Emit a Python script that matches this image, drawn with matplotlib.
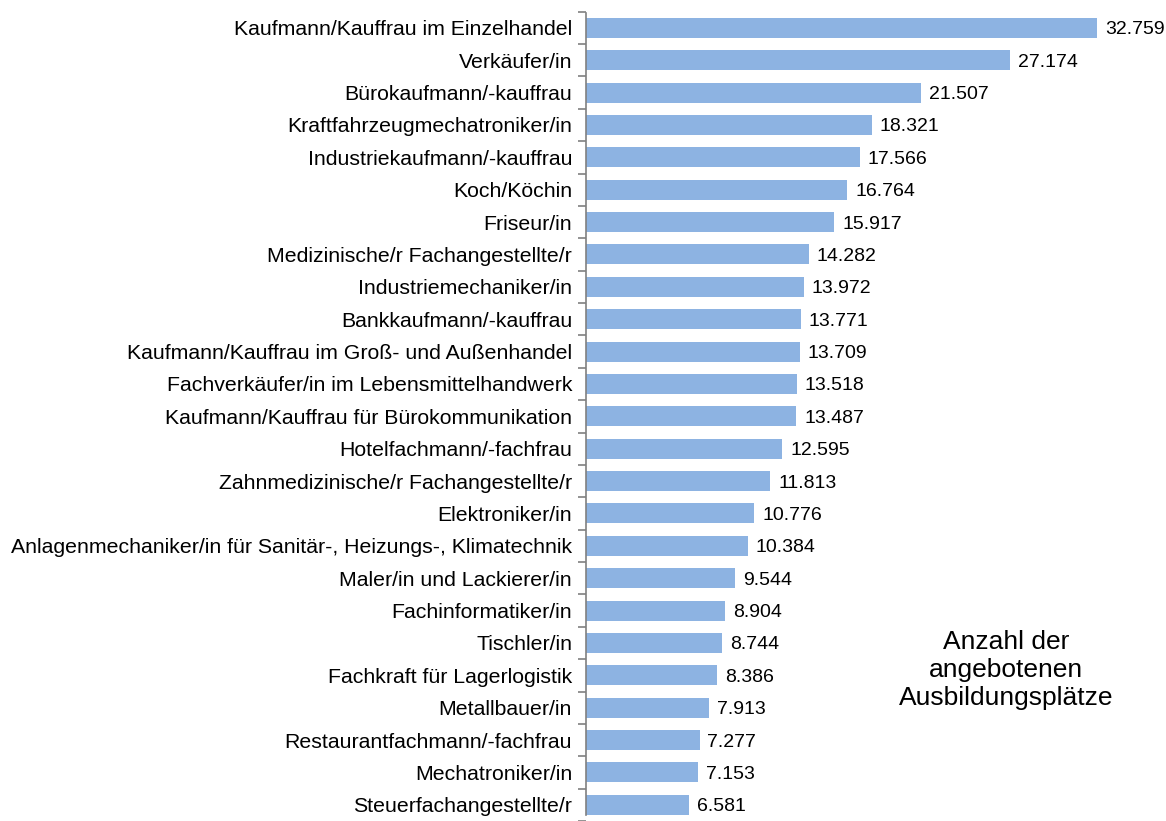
import matplotlib
matplotlib.use("Agg")
import matplotlib.pyplot as plt
import numpy as np

CATEGORIES = [
    "Kaufmann/Kauffrau im Einzelhandel",
    "Verkäufer/in",
    "Bürokaufmann/-kauffrau",
    "Kraftfahrzeugmechatroniker/in",
    "Industriekaufmann/-kauffrau",
    "Koch/Köchin",
    "Friseur/in",
    "Medizinische/r Fachangestellte/r",
    "Industriemechaniker/in",
    "Bankkaufmann/-kauffrau",
    "Kaufmann/Kauffrau im Groß- und Außenhandel",
    "Fachverkäufer/in im Lebensmittelhandwerk",
    "Kaufmann/Kauffrau für Bürokommunikation",
    "Hotelfachmann/-fachfrau",
    "Zahnmedizinische/r Fachangestellte/r",
    "Elektroniker/in",
    "Anlagenmechaniker/in für Sanitär-, Heizungs-, Klimatechnik",
    "Maler/in und Lackierer/in",
    "Fachinformatiker/in",
    "Tischler/in",
    "Fachkraft für Lagerlogistik",
    "Metallbauer/in",
    "Restaurantfachmann/-fachfrau",
    "Mechatroniker/in",
    "Steuerfachangestellte/r",
]
VALUES = [32759, 27174, 21507, 18321, 17566, 16764, 15917, 14282, 13972, 13771,
          13709, 13518, 13487, 12595, 11813, 10776, 10384, 9544, 8904, 8744,
          8386, 7913, 7277, 7153, 6581]
LEGEND_TEXT = "Anzahl der\nangebotenen\nAusbildungsplätze"

BAR_COLOR = "#8DB3E2"
FONT = "Liberation Sans"


def fmt_de(v: int) -> str:
    return f"{v:,}".replace(",", ".")


fig = plt.figure(figsize=(11.66, 8.21), dpi=100)
ax = fig.add_axes([586 / 1166, 0, 1 - 586 / 1166, 1])

y = np.arange(len(CATEGORIES))
ax.barh(y, VALUES, height=0.62, color=BAR_COLOR, zorder=2)
ax.set_xlim(0, 37183)
ax.set_ylim(24.33, -0.86)

# value labels sit a touch below the bar centre, as in the source
for yi, v in zip(y, VALUES):
    ax.text(v + 510, yi + 0.06, fmt_de(v), va="center", ha="left",
            fontsize=14, family=FONT, color="black")

ax.set_yticks(y)
ax.set_yticklabels(CATEGORIES, family=FONT, fontsize=15.3)
ax.tick_params(axis="y", which="major", length=0, pad=10)
ax.set_yticks(np.arange(len(CATEGORIES) + 1) - 0.5, minor=True)
ax.tick_params(axis="y", which="minor", length=6, color="#808080", width=1.2)
ax.set_xticks([])

for s in ("top", "right", "bottom"):
    ax.spines[s].set_visible(False)
ax.spines["left"].set_color("#808080")
ax.spines["left"].set_linewidth(1.2)
ax.spines["left"].set_bounds(-0.46, 24.33)

ax.text(1006 / 1166, 1 - 670 / 821, LEGEND_TEXT, transform=fig.transFigure,
        ha="center", va="center", fontsize=19, family=FONT, linespacing=1.2)

fig.savefig("out.png", dpi=100)
